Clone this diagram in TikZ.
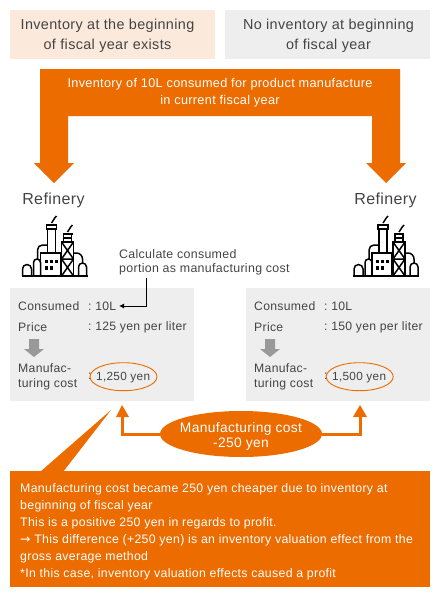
\documentclass[tikz,border=0pt]{standalone}
\usepackage{fontspec}
\setmainfont[LetterSpace=2.5]{Liberation Sans}
\newfontfamily\arrowfont{DejaVu Sans}
\usetikzlibrary{arrows.meta,shapes.geometric}
\definecolor{org}{HTML}{EC6C00}
\definecolor{txt}{HTML}{444444}
\definecolor{pale}{HTML}{FBE9DC}
\definecolor{lgray}{HTML}{EEEEEE}
\definecolor{midgray}{HTML}{999999}
\tikzset{
 x=1pt,y=1pt,
 headbox/.style={rectangle,minimum width=205pt,minimum height=49pt,inner sep=0pt},
 headtext/.style={inner sep=0pt,align=center,text=txt,font=\fontsize{14.4}{20}\selectfont},
 panel/.style={rectangle,fill=lgray,minimum width=184pt,minimum height=113pt,inner sep=0pt},
 title/.style={inner sep=0pt,text=txt,font=\fontsize{16}{20}\selectfont},
 lab/.style={inner sep=0pt,anchor=west,text=txt,font=\fontsize{12.2}{15}\selectfont},
 lab2/.style={lab,align=left},
 val/.style={lab,font=\fontsize{11.8}{15}\selectfont},
 ring/.style={ellipse,draw=org,line width=.9pt,minimum width=67pt,minimum height=28pt,inner sep=0pt},
 pop/.style={ellipse,fill=org,minimum width=162pt,minimum height=46pt,inner sep=0pt},
 poptext/.style={inner sep=0pt,text=white,align=center,font=\fontsize{13.8}{14.5}\selectfont},
 conn/.style={org,line width=3pt},
 tip/.style={fill=org,draw=none},
 icon/.style={line width=1.5pt,black,line join=miter},
}
\newcommand{\refinery}[2]{%
 \begin{scope}[shift={(#1,#2)}]
  \draw[icon] (0,0) -- (0,7) arc[start angle=180,end angle=0,radius=4.5] -- (9,0);
  \draw[icon] (11,0) -- (11,13.5) arc[start angle=180,end angle=0,radius=3.5] -- (18,0);
  \draw[icon] (-1,0) -- (65,0);
  \draw[icon] (18,0) -- (18,23) -- (38,23) -- (38,0);
  \draw[icon] (15,17) -- (15,26) arc[start angle=180,end angle=90,radius=5] -- (25,31);
  \draw[icon] (25,23) -- (25,47) -- (33,47) -- (33,23);
  \draw[icon] (24,47) -- (34,47) -- (34,51) -- (24,51) -- cycle;
  \draw[icon] (29,53) to[out=90,in=-90] (31,56) to[out=90,in=-110] (34,60);
  \draw[icon] (39,0) -- (39,34) -- (51,34) -- (51,0);
  \draw[icon] (39,34) -- (51,17) (51,34) -- (39,17) (39,17) -- (51,17) (39,17) -- (51,0) (51,17) -- (39,0);
  \draw[icon] (41,34) -- (41,42) -- (49,42) -- (49,34);
  \draw[icon] (40,42) -- (50,42) (41,38) -- (49,38);
  \draw[icon] (45,44) to[out=90,in=-90] (47,47) to[out=90,in=-110] (50,51);
  \draw[icon] (51,23) -- (54,23) arc[start angle=90,end angle=0,radius=6] -- (60,13);
  \draw[icon] (56,0) -- (56,9) arc[start angle=180,end angle=0,radius=4] -- (64,0);
  \foreach \wx in {22,27,32}{\fill[black] (\wx,13) rectangle +(3,3.2);}
  \foreach \wx in {22,27}{\fill[black] (\wx,6.5) rectangle +(3,3.2);}
 \end{scope}}
\begin{document}
\begin{tikzpicture}
\useasboundingbox (0,0) rectangle (440,-597);
\node[headbox,fill=pale] (hl) at (112.5,-34.5) {};
\node[headbox,fill=lgray] (hr) at (327.5,-34.5) {};
\node[headtext] (hlt) at (107.5,-36) {Inventory at the beginning\\of fiscal year exists};
\node[headtext] (hrt) at (328.5,-36) {No inventory at beginning\\of fiscal year};
\fill[org] (40,-69) -- (400,-69) -- (400,-163) -- (406,-163) -- (386,-183) -- (366,-163) -- (372,-163) -- (372,-116) -- (68,-116) -- (68,-163) -- (74,-163) -- (54,-183) -- (34,-163) -- (40,-163) -- cycle;
\node[inner sep=0pt,align=center,text=white,font=\fontsize{12.7}{17}\selectfont] (bt) at (220,-93) {Inventory of 10L consumed for product manufacture\\in current fiscal year};
\node[title] (tl) at (53.5,-200.5) {Refinery};
\node[title] (tr) at (385.5,-200.5) {Refinery};
\refinery{22.5}{-276}
\refinery{354}{-276}
\node[panel] (pl) at (102,-344.5) {};
\node[panel] (pr) at (338,-344.5) {};
\node[lab] (c1) at (18,-306) {Consumed};
\node[lab] (c2) at (88,-306) {:\ 10L};
\node[lab] (p1) at (18,-327) {Price};
\node[lab] (p2) at (88,-327) {:\ 125 yen per liter};
\node[lab2] (m1) at (18,-377.3) {Manufac-\\turing cost};
\node[lab] (m2) at (88,-376) {:};
\node[ring] (r1) at (123.5,-376.7) {};
\node[val] (v1) at (96,-377.2) {1,250 yen};
\fill[midgray] (29,-339) rectangle (39,-349) (24,-349) -- (44,-349) -- (34,-357) -- cycle;
\node[lab] (c3) at (254,-306) {Consumed};
\node[lab] (c4) at (324,-306) {:\ 10L};
\node[lab] (p3) at (254,-327) {Price};
\node[lab] (p4) at (324,-327) {:\ 150 yen per liter};
\node[lab2] (m3) at (254,-377.3) {Manufac-\\turing cost};
\node[lab] (m4) at (324,-376) {:};
\node[ring] (r2) at (359.7,-376.7) {};
\node[val] (v2) at (332,-377.2) {1,500 yen};
\fill[midgray] (265,-339) rectangle (275,-349) (260,-349) -- (280,-349) -- (270,-357) -- cycle;
\node[lab2,font=\fontsize{12.4}{14}\selectfont] (note) at (119,-262) {Calculate consumed\\portion as manufacturing cost};
\coordinate (ns) at (146,-278);
\coordinate (ne) at (119,-306);
\draw[black,line width=.9pt,-{Latex[length=5pt,width=5pt]}] (ns) |- (ne);
\coordinate (al) at (122,-405);
\coordinate (ar) at (360,-405);
\node[pop] (pe) at (241,-434) {};
\draw[conn] (al |- 0,-417) |- (pe.west);
\draw[conn] (ar |- 0,-417) |- (pe.east);
\fill[tip] (al) -- (129,-417) -- (116,-417) -- cycle;
\fill[tip] (ar) -- (367,-417) -- (353,-417) -- cycle;
\node[poptext] (pt) at (241,-436.5) {Manufacturing cost\\-250 yen};
\fill[org] (111,-410) -- (63,-472) -- (40,-472) -- cycle;
\node[rectangle,fill=org,minimum width=420pt,minimum height=116pt,inner sep=0pt] (bb) at (220,-529) {};
\node[anchor=north west,inner sep=0pt,align=left,text=white,font=\fontsize{12.33}{17}\selectfont] (bbt) at (20,-483) {Manufacturing cost became 250 yen cheaper due to inventory at\\beginning of fiscal year\\This is a positive 250 yen in regards to profit.\\{\arrowfont →} This difference (+250 yen) is an inventory valuation effect from the\\gross average method\\*In this case, inventory valuation effects caused a profit};
\end{tikzpicture}
\end{document}
